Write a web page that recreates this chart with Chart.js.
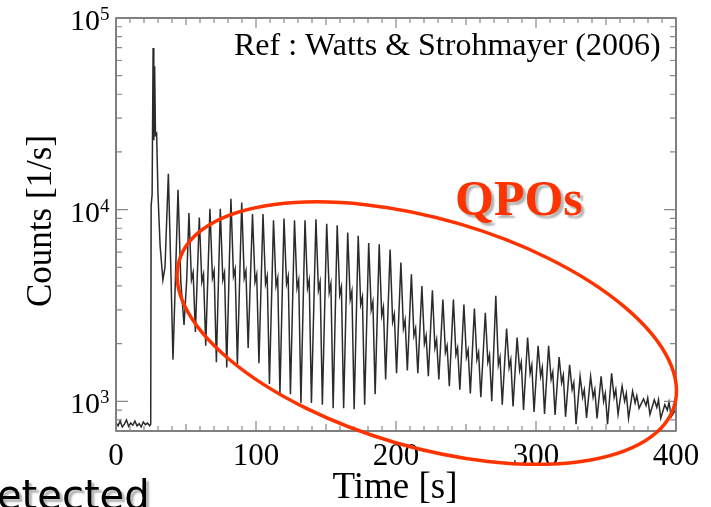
<!DOCTYPE html>
<html lang="en">
<head>
    <meta charset="UTF-8">
    <title>Light curve with QPOs</title>
    <style>
        body {
            margin: 0;
            background: white;
        }
        canvas {
            display: block;
        }
    </style>
    <script src="https://cdn.jsdelivr.net/npm/chart.js"></script>
</head>
<body>
    <canvas id="myChart" width="711" height="507"></canvas>
    <script>
        // time [s] and counts [1/s]
        const times = [
            0, 1.5, 3, 4.5, 6, 7.5, 9, 10.5, 12, 13.5, 15, 16.5, 18, 19.5, 21, 22.5, 24, 24.8,
            25.1, 25.8, 26.5, 27.0, 27.6, 28.2, 29.0, 30.0, 31.5, 33.5, 35.0, 37.4, 39.0, 40.7, 42.5, 44.3, 46.3, 48.6, 50.5,
            52.1, 53.9, 55.1, 56.7,   59.5, 61.3, 62.5, 64.1,   67.1, 68.9, 70.1, 71.7,
            74.5, 76.3, 77.5, 79.1,   82.1, 83.9, 85.1, 86.7,   89.8, 91.6, 92.8, 94.4,
            97.5, 99.3, 100.5, 102.1, 105.0, 106.8, 108.0, 109.6, 112.5, 114.3, 115.5, 117.1,
            120.0, 121.8, 123.0, 124.6, 127.5, 129.3, 130.5, 132.1, 135.0, 136.8, 138.0, 139.6,
            142.8, 144.6, 145.8, 147.4, 150.5, 152.3, 153.5, 155.1, 158.0, 159.8, 161.0, 162.6,
            165.5, 167.3, 168.5, 170.1, 173.0, 174.8, 176.0, 177.6, 180.5, 182.3, 183.5, 185.1,
            188.0, 189.8, 191.0, 192.6, 195.8, 197.6, 198.8, 200.4, 203.5, 205.3, 206.5, 208.1,
            211.0, 212.8, 214.0, 215.6, 218.5, 220.3, 221.5, 223.1, 226.0, 227.8, 229.0, 230.6,
            233.5, 235.3, 236.5, 238.1, 241.0, 242.8, 244.0, 245.6, 248.5, 250.3, 251.5, 253.1,
            256.0, 257.8, 259.0, 260.6, 263.8, 265.6, 266.8, 268.4, 271.3, 273.1, 274.3, 275.9,
            279.0, 280.8, 282.0, 283.6, 286.5, 288.3, 289.5, 291.1, 294.0, 295.8, 297.0, 298.6,
            301.5, 303.3, 304.5, 306.1, 309.0, 310.8, 312.0, 313.6, 316.5, 318.3, 319.5, 321.1,
            324.0, 325.8, 327.0, 328.6, 331.5, 333.3, 334.5, 336.1, 339.0, 340.8, 342.0, 343.6,
            346.5, 348.3, 349.5, 351.1, 354.0, 355.8, 357.0, 358.6, 361.5, 363.3, 364.5, 366.1,
            369.0, 370.8, 372.0, 373.6, 376.8, 378.6, 379.8, 381.4, 384.5, 386.3, 387.5, 389.1,
            392.0, 393.8, 395.0, 396.6, 399.5
        ];
        const counts = [
            770, 745, 790, 735, 760, 800, 740, 770, 750, 790, 745, 765, 735, 780, 755, 770, 745, 760,
            10500, 12000, 69700, 23000, 56000, 24500, 25000, 12000, 6500, 4300, 5000, 15400, 5500, 1650, 4500, 12700, 4200, 2500, 4300,
            9600, 4300, 4700, 2300,   9100, 4200, 4600, 1950,   10100, 4400, 4800, 1600,
            10100, 4300, 4700, 1500,  11400, 4500, 4900, 1550,  10900, 4400, 4800, 1900,
            9500, 4200, 4600, 1580,   9500, 4100, 4500, 1230,   8800, 4000, 4400, 1100,
            9000, 4100, 4500, 1090,   8800, 3900, 4300, 980,    8800, 3900, 4300, 980,
            8900, 3800, 4200, 960,    8450, 3700, 4100, 920,    8300, 3600, 3950, 920,
            7600, 3400, 3750, 910,    7300, 3200, 3500, 960,    6700, 3000, 3300, 1090,
            6600, 2800, 3100, 1300,   6200, 2600, 2850, 1400,   5300, 2400, 2650, 1450,
            4600, 2200, 2400, 1400,   4000, 2000, 2200, 1350,   3800, 1900, 2100, 1300,
            3400, 1800, 1950, 1200,   3400, 1750, 1900, 1150,   3200, 1700, 1850, 1100,
            3050, 1650, 1800, 1050,   2900, 1600, 1750, 1000,   3550, 1550, 1700, 960,
            2400, 1500, 1650, 940,    2150, 1450, 1600, 900,    2150, 1400, 1550, 880,
            1950, 1350, 1500, 860,    1950, 1300, 1420, 850,    1700, 1250, 1370, 830,
            1550, 1150, 1250, 760,    1350, 1050, 1150, 820,    1350, 1050, 1150, 815,
            1350, 1000, 1100, 760,    1400, 1050, 1150, 855,    1200, 1000, 1100, 815,
            1130, 980, 1070, 920,     1030, 950, 1040, 855,     1020, 930, 1020, 815,
            960, 900, 990, 830,       900
        ];
        const xTickValues = [0, 100, 200, 300, 400];
        const yDecades = [3, 4, 5];

        const serif = '"Liberation Serif", "Times New Roman", serif';
        const red = '#ff3300';

        const decor = {
            id: 'decor',
            afterDraw(chart) {
                const ctx = chart.ctx;
                const a = chart.chartArea;
                const x = chart.scales.x;
                const y = chart.scales.y;
                ctx.save();

                // frame
                ctx.strokeStyle = '#555';
                ctx.lineWidth = 1.5;
                ctx.strokeRect(a.left, a.top, a.right - a.left, a.bottom - a.top);

                // inward ticks
                ctx.strokeStyle = '#888';
                ctx.lineWidth = 1.2;
                ctx.beginPath();
                for (let v = 0; v <= 400; v += 10) {
                    const px = x.getPixelForValue(v);
                    const len = v % 100 === 0 ? 10 : (v % 50 === 0 ? 7 : 5);
                    ctx.moveTo(px, a.bottom); ctx.lineTo(px, a.bottom - len);
                    ctx.moveTo(px, a.top); ctx.lineTo(px, a.top + len);
                }
                for (let d = 2; d <= 5; d++) {
                    for (let m = 1; m <= 9; m++) {
                        const v = m * Math.pow(10, d);
                        if (v < y.min || v > y.max) continue;
                        const py = y.getPixelForValue(v);
                        const len = m === 1 ? 12 : 6;
                        ctx.moveTo(a.left, py); ctx.lineTo(a.left + len, py);
                        ctx.moveTo(a.right, py); ctx.lineTo(a.right - len, py);
                    }
                }
                ctx.stroke();

                // tick labels
                ctx.fillStyle = '#000';
                ctx.font = '31px ' + serif;
                ctx.textAlign = 'center';
                ctx.textBaseline = 'alphabetic';
                xTickValues.forEach(v => {
                    ctx.fillText(String(v), x.getPixelForValue(v), 465);
                });
                yDecades.forEach(d => {
                    const py = y.getPixelForValue(Math.pow(10, d));
                    ctx.font = '30px ' + serif;
                    ctx.textAlign = 'right';
                    ctx.fillText('10', 100, py + 12);
                    ctx.font = '19px ' + serif;
                    ctx.textAlign = 'left';
                    ctx.fillText(String(d), 100, py + 2);
                });

                // axis titles
                ctx.font = '37px ' + serif;
                ctx.textAlign = 'center';
                ctx.fillText('Time [s]', 395, 498);
                ctx.save();
                ctx.translate(51, 221);
                ctx.rotate(-Math.PI / 2);
                ctx.font = '35px ' + serif;
                ctx.fillText('Counts [1/s]', 0, 0);
                ctx.restore();

                // reference note
                ctx.font = '32px ' + serif;
                ctx.textAlign = 'left';
                ctx.fillText('Ref : Watts & Strohmayer (2006)', 234, 55);

                // ellipse around the oscillations
                const cx = x.getPixelForValue(222);
                const cy = y.getPixelForValue(2270);
                ctx.strokeStyle = red;
                ctx.lineWidth = 3.5;
                ctx.beginPath();
                ctx.ellipse(cx, cy, 258, 114, 16.3 * Math.PI / 180, 0, 2 * Math.PI);
                ctx.stroke();

                // shadowed labels
                ctx.shadowColor = 'rgba(0, 0, 0, 0.3)';
                ctx.shadowOffsetX = 3;
                ctx.shadowOffsetY = 3;
                ctx.shadowBlur = 2;
                ctx.fillStyle = red;
                ctx.font = 'bold 50px ' + serif;
                ctx.fillText('QPOs', 455, 215);

                ctx.fillStyle = '#000';
                ctx.font = '40px "DejaVu Sans", sans-serif';
                ctx.fillText('etected', -3, 509);
                ctx.restore();
            }
        };

        const ctx = document.getElementById('myChart').getContext('2d');
        const myChart = new Chart(ctx, {
            type: 'line',
            data: {
                labels: times,
                datasets: [{
                    data: times.map((t, i) => ({ x: t, y: counts[i] })),
                    borderColor: '#2b2b2b',
                    borderWidth: 1.5,
                    pointRadius: 0,
                    tension: 0
                }]
            },
            options: {
                responsive: false,
                animation: false,
                layout: { padding: { top: 18, right: 35, left: 0, bottom: 0 } },
                plugins: {
                    legend: { display: false },
                    tooltip: { enabled: false }
                },
                scales: {
                    x: {
                        type: 'linear',
                        min: 0,
                        max: 400,
                        grid: { display: false },
                        border: { display: false },
                        ticks: { display: false },
                        afterFit: s => { s.height = 76; }
                    },
                    y: {
                        type: 'logarithmic',
                        min: 700,
                        max: 100000,
                        grid: { display: false },
                        border: { display: false },
                        ticks: { display: false },
                        afterFit: s => { s.width = 116; }
                    }
                }
            },
            plugins: [decor]
        });
    </script>
</body>
</html>
